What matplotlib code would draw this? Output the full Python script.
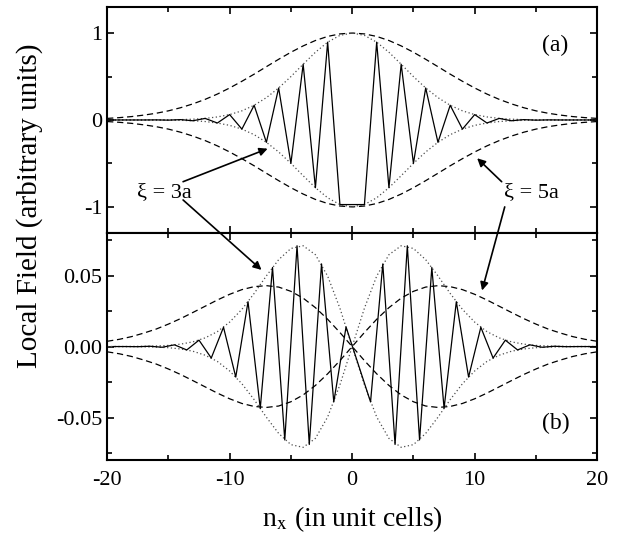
import numpy as np
import matplotlib
matplotlib.use('Agg')
import matplotlib.pyplot as plt
from matplotlib.ticker import MultipleLocator

plt.rcParams['font.family'] = ['Liberation Serif', 'DejaVu Serif']
plt.rcParams['mathtext.fontset'] = 'stix'
plt.rcParams['axes.unicode_minus'] = False

# ---- data ----
x_env = np.arange(-20, 21)                    # envelope sample points
# panel (a): Gaussian envelopes
env5_a = [0.018, 0.027, 0.039, 0.056, 0.077, 0.105, 0.141, 0.185, 0.237, 0.298, 0.368,
          0.445, 0.527, 0.613, 0.698, 0.779, 0.852, 0.914, 0.961, 0.990, 1.000,
          0.990, 0.961, 0.914, 0.852, 0.779, 0.698, 0.613, 0.527, 0.445, 0.368,
          0.298, 0.237, 0.185, 0.141, 0.105, 0.077, 0.056, 0.039, 0.027, 0.018]
env3_a = [0.000, 0.000, 0.000, 0.000, 0.001, 0.002, 0.004, 0.009, 0.018, 0.035, 0.062,
          0.105, 0.169, 0.257, 0.368, 0.499, 0.641, 0.779, 0.895, 0.973, 1.000,
          0.973, 0.895, 0.779, 0.641, 0.499, 0.368, 0.257, 0.169, 0.105, 0.062,
          0.035, 0.018, 0.009, 0.004, 0.002, 0.001, 0.000, 0.000, 0.000, 0.000]
# panel (a): local field at the lattice sites
x_a = [-20, -19, -18, -17, -16, -15, -14, -13, -12, -11, -10, -9, -8, -7, -6, -5, -4, -3, -2, -1,
       1, 2, 3, 4, 5, 6, 7, 8, 9, 10, 11, 12, 13, 14, 15, 16, 17, 18, 19, 20]
field_a = [0.000, 0.000, 0.000, 0.000, 0.001, -0.002, 0.004, -0.009, 0.018, -0.035,
           0.062, -0.105, 0.169, -0.257, 0.368, -0.499, 0.641, -0.779, 0.895, -0.973,
           -0.973, 0.895, -0.779, 0.641, -0.499, 0.368, -0.257, 0.169, -0.105, 0.062,
           -0.035, 0.018, -0.009, 0.004, -0.002, 0.001, 0.000, 0.000, 0.000, 0.000]

# panel (b): odd envelopes (upper branch positive for n_x < 0)
env5_b = [0.0037, 0.0051, 0.0070, 0.0095, 0.0123, 0.0158, 0.0197, 0.0240, 0.0284, 0.0328, 0.0368,
          0.0401, 0.0422, 0.0429, 0.0419, 0.0389, 0.0341, 0.0274, 0.0192, 0.0099, 0.0,
          -0.0099, -0.0192, -0.0274, -0.0341, -0.0389, -0.0419, -0.0429, -0.0422, -0.0401, -0.0368,
          -0.0328, -0.0284, -0.0240, -0.0197, -0.0158, -0.0123, -0.0095, -0.0070, -0.0051, -0.0037]
env3_b = [0.0, 0.0, 0.0001, 0.0002, 0.0004, 0.0008, 0.0017, 0.0033, 0.0061, 0.0105, 0.0172,
          0.0262, 0.0374, 0.0498, 0.0612, 0.0691, 0.0710, 0.0647, 0.0496, 0.0270, 0.0,
          -0.0270, -0.0496, -0.0647, -0.0710, -0.0691, -0.0612, -0.0498, -0.0374, -0.0262, -0.0172,
          -0.0105, -0.0061, -0.0033, -0.0017, -0.0008, -0.0004, -0.0002, -0.0001, 0.0, 0.0]
# panel (b): local field, half-integer sites
x_b = [-19.5, -18.5, -17.5, -16.5, -15.5, -14.5, -13.5, -12.5, -11.5, -10.5, -9.5, -8.5,
       -7.5, -6.5, -5.5, -4.5, -3.5, -2.5, -1.5, -0.5,
       1.5, 2.5, 3.5, 4.5, 5.5, 6.5, 7.5, 8.5, 9.5, 10.5, 11.5, 12.5, 13.5, 14.5,
       15.5, 16.5, 17.5, 18.5, 19.5, 20.5]
field_b = [0.0, 0.0, -0.0001, 0.0002, -0.0005, 0.0012, -0.0024, 0.0045, -0.0081, 0.0136,
           -0.0215, 0.0316, -0.0435, 0.0557, -0.0658, 0.0710, -0.0690, 0.0582, -0.0390, 0.0138,
           -0.0390, 0.0582, -0.0690, 0.0710, -0.0658, 0.0557, -0.0435, 0.0316, -0.0215, 0.0136,
           -0.0081, 0.0045, -0.0024, 0.0012, -0.0005, 0.0002, -0.0001, 0.0, 0.0, 0.0]

dash = (0, (5, 3))
dot = (0, (1, 2))

fig = plt.figure(figsize=(6.3, 5.35), dpi=100)
ax_a = fig.add_axes([0.170, 0.5645, 0.778, 0.4225])
ax_b = fig.add_axes([0.170, 0.140, 0.778, 0.4245])

# panel (a)
ax_a.plot(x_env, env5_a, color='k', ls=dash, lw=0.9)
ax_a.plot(x_env, -np.array(env5_a), color='k', ls=dash, lw=0.9)
ax_a.plot(x_env, env3_a, color='0.3', ls=dot, lw=0.9)
ax_a.plot(x_env, -np.array(env3_a), color='0.3', ls=dot, lw=0.9)
ax_a.plot(x_a, field_a, color='k', lw=0.9)
ax_a.set_ylim(-1.3, 1.3)
ax_a.yaxis.set_major_locator(MultipleLocator(1))
ax_a.yaxis.set_minor_locator(MultipleLocator(0.5))
ax_a.tick_params(labelbottom=False)
ax_a.text(16.6, 0.86, '(a)', fontsize=17, ha='center', va='center')

# panel (b)
ax_b.plot(x_env, env5_b, color='k', ls=dash, lw=0.9)
ax_b.plot(x_env, -np.array(env5_b), color='k', ls=dash, lw=0.9)
ax_b.plot(x_env, env3_b, color='0.3', ls=dot, lw=0.9)
ax_b.plot(x_env, -np.array(env3_b), color='0.3', ls=dot, lw=0.9)
ax_b.plot(x_b, field_b, color='k', lw=0.9)
ax_b.set_ylim(-0.08, 0.08)
ax_b.yaxis.set_major_locator(MultipleLocator(0.05))
ax_b.yaxis.set_minor_locator(MultipleLocator(0.025))
ax_b.yaxis.set_major_formatter(matplotlib.ticker.FormatStrFormatter('%.2f'))
ax_b.text(16.6, -0.054, '(b)', fontsize=17, ha='center', va='center')

for ax in (ax_a, ax_b):
    ax.set_xlim(-20, 20)
    ax.xaxis.set_major_locator(MultipleLocator(10))
    ax.xaxis.set_minor_locator(MultipleLocator(5))
    ax.tick_params(which='both', direction='in', top=True, right=True, labelsize=16)
    ax.tick_params(which='major', length=5, width=1.2)
    ax.tick_params(which='minor', length=3.5, width=1.2)
    ax.tick_params(axis='x', pad=8)
    for s in ax.spines.values():
        s.set_linewidth(1.5)

ax_b.set_xlabel(r'n$_{\mathrm{x}}$ (in unit cells)', fontsize=20, labelpad=10)
fig.text(0.047, 0.615, 'Local Field (arbitrary units)', fontsize=21,
         rotation=90, ha='center', va='center')

# annotations
arr = dict(arrowstyle='-|>', color='k', lw=1.2, mutation_scale=12, shrinkA=0, shrinkB=0)
ax_a.text(-15.3, -0.83, r'ξ = 3a', fontsize=16, ha='center', va='center')
ax_a.annotate('', xy=(-6.9, -0.33), xytext=(-13.8, -0.71), arrowprops=arr)
ax_b.annotate('', xy=(-7.4, 0.054), xycoords='data', xytext=(-13.8, -0.92),
              textcoords=ax_a.transData, arrowprops=arr)
ax_a.text(14.65, -0.84, r'ξ = 5a', fontsize=16, ha='center', va='center')
ax_a.annotate('', xy=(10.2, -0.44), xytext=(12.2, -0.71), arrowprops=arr)
ax_b.annotate('', xy=(10.6, 0.0395), xycoords='data', xytext=(12.45, -1.0),
              textcoords=ax_a.transData, arrowprops=arr)

fig.savefig('out.png', dpi=100)
